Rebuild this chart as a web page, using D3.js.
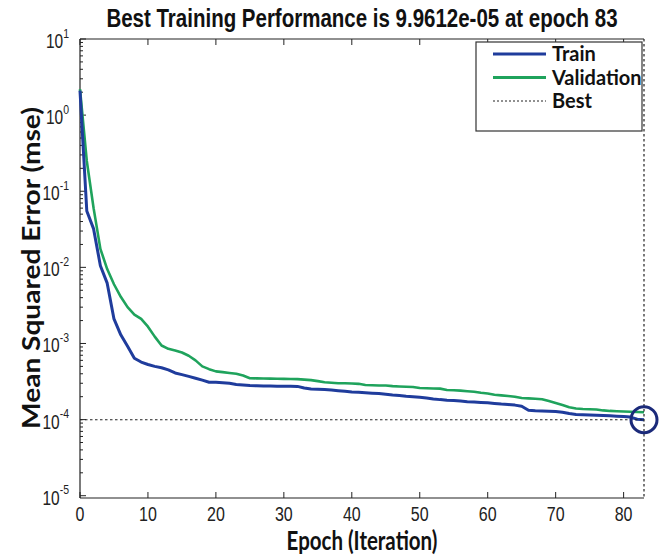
<!DOCTYPE html>
<html>
<head>
<meta charset="utf-8">
<script src="https://cdn.jsdelivr.net/npm/d3@7"></script>
<style>
  html, body { margin: 0; padding: 0; background: #fff; }
  svg { display: block; }
</style>
</head>
<body>
<div id="chart"></div>
<script>
// Training record: mean squared error per epoch (0..83)
const epochs = d3.range(0, 84);

const trainMse = [
  2.1, 0.055, 0.032, 0.0105, 0.0062, 0.0021, 0.0013, 0.00092, 0.00064, 0.00057,
  0.00053, 0.0005, 0.00048, 0.00045, 0.00041, 0.00039, 0.00037, 0.00035, 0.00033, 0.00031,
  0.00031, 0.000305, 0.0003, 0.00029, 0.000285, 0.00028, 0.000278, 0.000277, 0.000276, 0.000275,
  0.000275, 0.000274, 0.000273, 0.00026, 0.000252, 0.00025, 0.000248, 0.000245, 0.00024, 0.000235,
  0.00023, 0.000228, 0.000225, 0.000222, 0.00022, 0.000215, 0.00021, 0.000207, 0.000203, 0.0002,
  0.000196, 0.000192, 0.000187, 0.000183, 0.00018, 0.000178, 0.000175, 0.000172, 0.00017, 0.000168,
  0.000166, 0.000163, 0.00016, 0.000158, 0.000155, 0.00015, 0.000133, 0.000131, 0.00013, 0.000129,
  0.000128, 0.000125, 0.00012, 0.000117, 0.000116, 0.000115, 0.000114, 0.000113, 0.000112, 0.000111,
  0.00011, 0.000108, 0.000101, 0.000099612
];

const validationMse = [
  2.2, 0.25, 0.06, 0.0175, 0.0095, 0.006, 0.0041, 0.003, 0.0024, 0.0021,
  0.00166, 0.00123, 0.00094, 0.00085, 0.00081, 0.00076, 0.00069, 0.0006, 0.0005, 0.00046,
  0.00043, 0.00042, 0.00041, 0.0004, 0.00038, 0.00035, 0.000348, 0.000346, 0.000345, 0.000344,
  0.000343, 0.000342, 0.00034, 0.000335, 0.00033, 0.00032, 0.00031, 0.000305, 0.0003, 0.0003,
  0.000298, 0.000295, 0.000285, 0.000283, 0.00028, 0.00028, 0.000275, 0.000272, 0.00027, 0.000268,
  0.00026, 0.000258, 0.000256, 0.000255, 0.000245, 0.000243, 0.00024, 0.000236, 0.000232, 0.000225,
  0.00022, 0.000212, 0.000208, 0.000204, 0.0002, 0.000192, 0.00019, 0.000188, 0.000185, 0.000175,
  0.000165, 0.000155, 0.000145, 0.00014, 0.000138, 0.000137, 0.000136, 0.000132, 0.00013, 0.000129,
  0.000128, 0.000127, 0.000126, 0.000125
];

const bestEpoch = 83;
const bestPerf = 9.9612e-05;

const xTickValues = [0, 10, 20, 30, 40, 50, 60, 70, 80];
const yExponents = [1, 0, -1, -2, -3, -4, -5];

const seriesNames = ["Train", "Validation", "Best"];
const titleText = "Best Training Performance is 9.9612e-05 at epoch 83";
const xLabelText = "Epoch (Iteration)";
const yLabelText = "Mean Squared Error  (mse)";

// ---- layout ----
const W = 664, H = 557;
const plot = { left: 80, right: 644, top: 39, bottom: 498 };

const colors = { train: "#1f3c9c", validation: "#1fa35c", circle: "#1b2a7a", axis: "#222" };

const svg = d3.select("#chart").append("svg")
  .attr("width", W).attr("height", H)
  .style("background", "#fff");

const x = d3.scaleLinear().domain([0, bestEpoch]).range([plot.left, plot.right]);
const y = d3.scaleLog().domain([Math.pow(10, -5.03), 10]).range([plot.bottom, plot.top]);

const sansFont = "'Liberation Sans', Arial, sans-serif";
const labelFont = "Lato, 'Open Sans', sans-serif";

// Text is drawn with a slightly tall aspect; each label sits in its own
// translated group so the vertical stretch is applied around its anchor.
function tallText(parent, tx, ty, sy) {
  return parent.append("g")
    .attr("transform", `translate(${tx},${ty}) scale(1,${sy})`)
    .append("text").attr("x", 0).attr("y", 0);
}

// ---- axes frame ----
const frame = svg.append("g").attr("stroke", colors.axis).attr("fill", "none");
frame.append("line").attr("x1", plot.left).attr("x2", plot.left).attr("y1", plot.top).attr("y2", plot.bottom).attr("stroke-width", 1.2);
frame.append("line").attr("x1", plot.left).attr("x2", plot.right).attr("y1", plot.top).attr("y2", plot.top).attr("stroke-width", 1.2);
frame.append("line").attr("x1", plot.left).attr("x2", plot.right).attr("y1", plot.bottom).attr("y2", plot.bottom).attr("stroke-width", 1.2);

// x ticks, inward on bottom and top edges
const xTicks = svg.append("g").attr("stroke", colors.axis).attr("stroke-width", 1);
xTickValues.forEach(v => {
  xTicks.append("line").attr("x1", x(v)).attr("x2", x(v)).attr("y1", plot.bottom).attr("y2", plot.bottom - 6);
  xTicks.append("line").attr("x1", x(v)).attr("x2", x(v)).attr("y1", plot.top).attr("y2", plot.top + 6);
});

const xTickLabels = svg.append("g");
xTickValues.forEach(v => {
  tallText(xTickLabels, x(v), plot.bottom + 23, 1.25)
    .attr("text-anchor", "middle")
    .attr("font-family", sansFont).attr("font-size", 16).attr("fill", "#222")
    .text(v);
});

// y ticks: decades plus log minor ticks, inward on the left edge
const yTicks = svg.append("g").attr("stroke", colors.axis).attr("stroke-width", 1);
yExponents.forEach(e => {
  const v = Math.pow(10, e);
  yTicks.append("line").attr("x1", plot.left).attr("x2", plot.left + 6).attr("y1", y(v)).attr("y2", y(v));
  if (e < 1) {
    for (let m = 2; m <= 9; m++) {
      const mv = m * v;
      yTicks.append("line").attr("x1", plot.left).attr("x2", plot.left + 3).attr("y1", y(mv)).attr("y2", y(mv));
    }
  }
});

const yTickLabels = svg.append("g");
yExponents.forEach(e => {
  const t = tallText(yTickLabels, plot.left - 11, y(Math.pow(10, e)) + 9, 1.3)
    .attr("text-anchor", "end")
    .attr("font-family", sansFont).attr("font-size", 15.5).attr("fill", "#222");
  t.append("tspan").text("10");
  t.append("tspan").attr("dy", -8).attr("font-size", 10.5).text(e);
});

// ---- series ----
const line = d3.line().x(d => x(d[0])).y(d => y(d[1]));

svg.append("path")
  .datum(epochs.map((e, i) => [e, validationMse[i]]))
  .attr("d", line).attr("fill", "none")
  .attr("stroke", colors.validation).attr("stroke-width", 2.6)
  .attr("stroke-linejoin", "round");

svg.append("path")
  .datum(epochs.map((e, i) => [e, trainMse[i]]))
  .attr("d", line).attr("fill", "none")
  .attr("stroke", colors.train).attr("stroke-width", 3)
  .attr("stroke-linejoin", "round");

// best epoch / best performance markers
svg.append("line")
  .attr("x1", x(0)).attr("x2", x(bestEpoch))
  .attr("y1", y(bestPerf)).attr("y2", y(bestPerf))
  .attr("stroke", "#222").attr("stroke-width", 1.2).attr("stroke-dasharray", "2.5,2.5");
svg.append("line")
  .attr("x1", x(bestEpoch)).attr("x2", x(bestEpoch))
  .attr("y1", plot.top).attr("y2", plot.bottom)
  .attr("stroke", "#222").attr("stroke-width", 1.2).attr("stroke-dasharray", "2.5,2.5");
svg.append("circle")
  .attr("cx", x(bestEpoch)).attr("cy", y(bestPerf)).attr("r", 13)
  .attr("fill", "none").attr("stroke", colors.circle).attr("stroke-width", 3);

// ---- legend ----
const legend = svg.append("g");
legend.append("rect")
  .attr("x", 476).attr("y", 42).attr("width", 166).attr("height", 89)
  .attr("fill", "#fff").attr("stroke", "#333").attr("stroke-width", 1.2);
const legendItems = [
  { name: seriesNames[0], color: colors.train, width: 3, dash: null },
  { name: seriesNames[1], color: colors.validation, width: 3, dash: null },
  { name: seriesNames[2], color: "#222", width: 1, dash: "2,2" }
];
legendItems.forEach((it, i) => {
  const ly = 54 + i * 23.5;
  legend.append("line")
    .attr("x1", 493).attr("x2", 546).attr("y1", ly).attr("y2", ly)
    .attr("stroke", it.color).attr("stroke-width", it.width)
    .attr("stroke-dasharray", it.dash);
  legend.append("text")
    .attr("x", 552).attr("y", ly + 7)
    .attr("font-family", labelFont).attr("font-weight", "bold").attr("font-size", 20)
    .attr("fill", "#111").text(it.name);
});

// ---- titles ----
tallText(svg, (plot.left + plot.right) / 2, 27, 1.25)
  .attr("text-anchor", "middle")
  .attr("font-family", sansFont).attr("font-weight", "bold").attr("font-size", 20.5)
  .attr("fill", "#111").text(titleText);

tallText(svg, (plot.left + plot.right) / 2, 550, 1.3)
  .attr("text-anchor", "middle")
  .attr("font-family", labelFont).attr("font-weight", "bold").attr("font-size", 20.5)
  .attr("fill", "#111").text(xLabelText);

svg.append("g")
  .attr("transform", `translate(40, 268) rotate(-90) scale(1.17,1)`)
  .append("text")
  .attr("text-anchor", "middle")
  .attr("font-family", labelFont).attr("font-weight", "bold").attr("font-size", 24)
  .attr("fill", "#111").text(yLabelText);
</script>
</body>
</html>
